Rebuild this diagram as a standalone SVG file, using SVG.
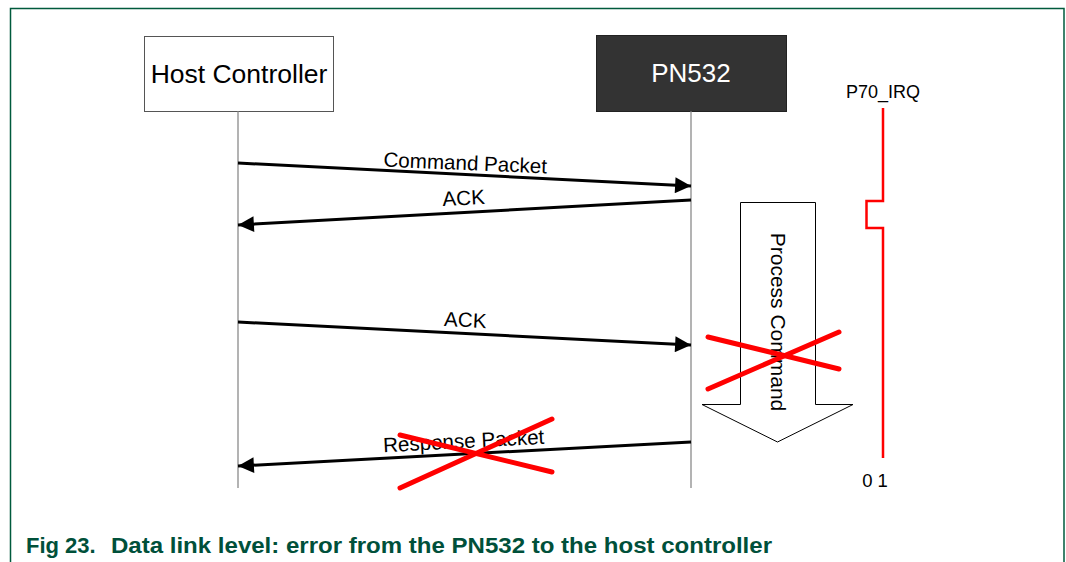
<svg xmlns="http://www.w3.org/2000/svg" width="1066" height="562" viewBox="0 0 1066 562">
<defs>
<style>
.t{font-family:"Liberation Sans",Arial,sans-serif;fill:#000}
.cap{font-family:"Liberation Sans",Arial,sans-serif;font-weight:bold;font-size:22px;fill:#00503a}
.msg{stroke:#000;stroke-width:3;fill:none}
.life{stroke:#808080;stroke-width:1.2}
.x{stroke:#ff0000;stroke-width:5;stroke-linecap:round}
</style>
<marker id="ah" viewBox="0 0 10 10" refX="10" refY="5" markerWidth="6.7" markerHeight="5.3" markerUnits="strokeWidth" orient="auto"><path d="M0,0 L10,5 L0,10 Z" fill="#000"/></marker>
</defs>
<rect width="1066" height="562" fill="#fff"/>
<path d="M10.5,570 V8.5 H1064 V570" fill="none" stroke="#005a3c" stroke-width="1.5"/>
<g id="host">
<rect x="144.5" y="36.5" width="189" height="75" fill="#fff" stroke="#555" stroke-width="1"/>
<text class="t" x="239" y="83" font-size="26.5" text-anchor="middle">Host Controller</text>
<line class="life" x1="238" y1="111" x2="238" y2="488"/>
</g>
<g id="pn532">
<rect x="596.5" y="35.5" width="190" height="76" fill="#333" stroke="#222" stroke-width="1"/>
<text class="t" x="691" y="82" font-size="26" text-anchor="middle" style="fill:#fff">PN532</text>
<line class="life" x1="691" y1="111" x2="691" y2="488"/>
</g>
<g id="irq">
<text class="t" x="883" y="98" font-size="18" text-anchor="middle">P70_IRQ</text>
<path d="M883,108 V201 H866.5 V228 H883 V458" fill="none" stroke="#ff0000" stroke-width="2.5"/>
<text class="t" x="875" y="487" font-size="18.5" text-anchor="middle">0 1</text>
</g>
<g id="process">
<path d="M740.5,202.5 H815.5 V404.5 H853 L777.5,442 L702,404.5 H740.5 Z" fill="#fff" stroke="#000" stroke-width="1"/>
<text class="t" x="778" y="322" font-size="21" text-anchor="middle" transform="rotate(90 778 322)" dy="7.5">Process Command</text>
</g>
<g id="connectors">
<line class="msg" x1="238" y1="163" x2="691" y2="186" marker-end="url(#ah)"/>
<text class="t" x="465" y="170" font-size="20.6" text-anchor="middle" transform="rotate(2.4 465 170)">Command Packet</text>
<line class="msg" x1="691" y1="200" x2="238" y2="225" marker-end="url(#ah)"/>
<text class="t" x="464" y="205" font-size="20.6" text-anchor="middle" transform="rotate(-3 464 205)">ACK</text>
<line class="msg" x1="238" y1="322" x2="691" y2="345" marker-end="url(#ah)"/>
<text class="t" x="465" y="327" font-size="20.6" text-anchor="middle" transform="rotate(2.9 465 327)">ACK</text>
<line class="msg" x1="691" y1="442" x2="238" y2="466" marker-end="url(#ah)"/>
<text class="t" x="464" y="448" font-size="20.6" text-anchor="middle" transform="rotate(-3 464 448)">Response Packet</text>
</g>
<g id="crosses">
<line class="x" x1="708" y1="337" x2="839" y2="369"/>
<line class="x" x1="708" y1="389" x2="839" y2="332"/>
<line class="x" x1="400" y1="435" x2="552" y2="472"/>
<line class="x" x1="400" y1="488" x2="552" y2="419"/>
</g>
<text class="cap" y="553"><tspan x="26">Fig 23.</tspan><tspan x="111" textLength="661" lengthAdjust="spacingAndGlyphs">Data link level: error from the PN532 to the host controller</tspan></text>
</svg>
